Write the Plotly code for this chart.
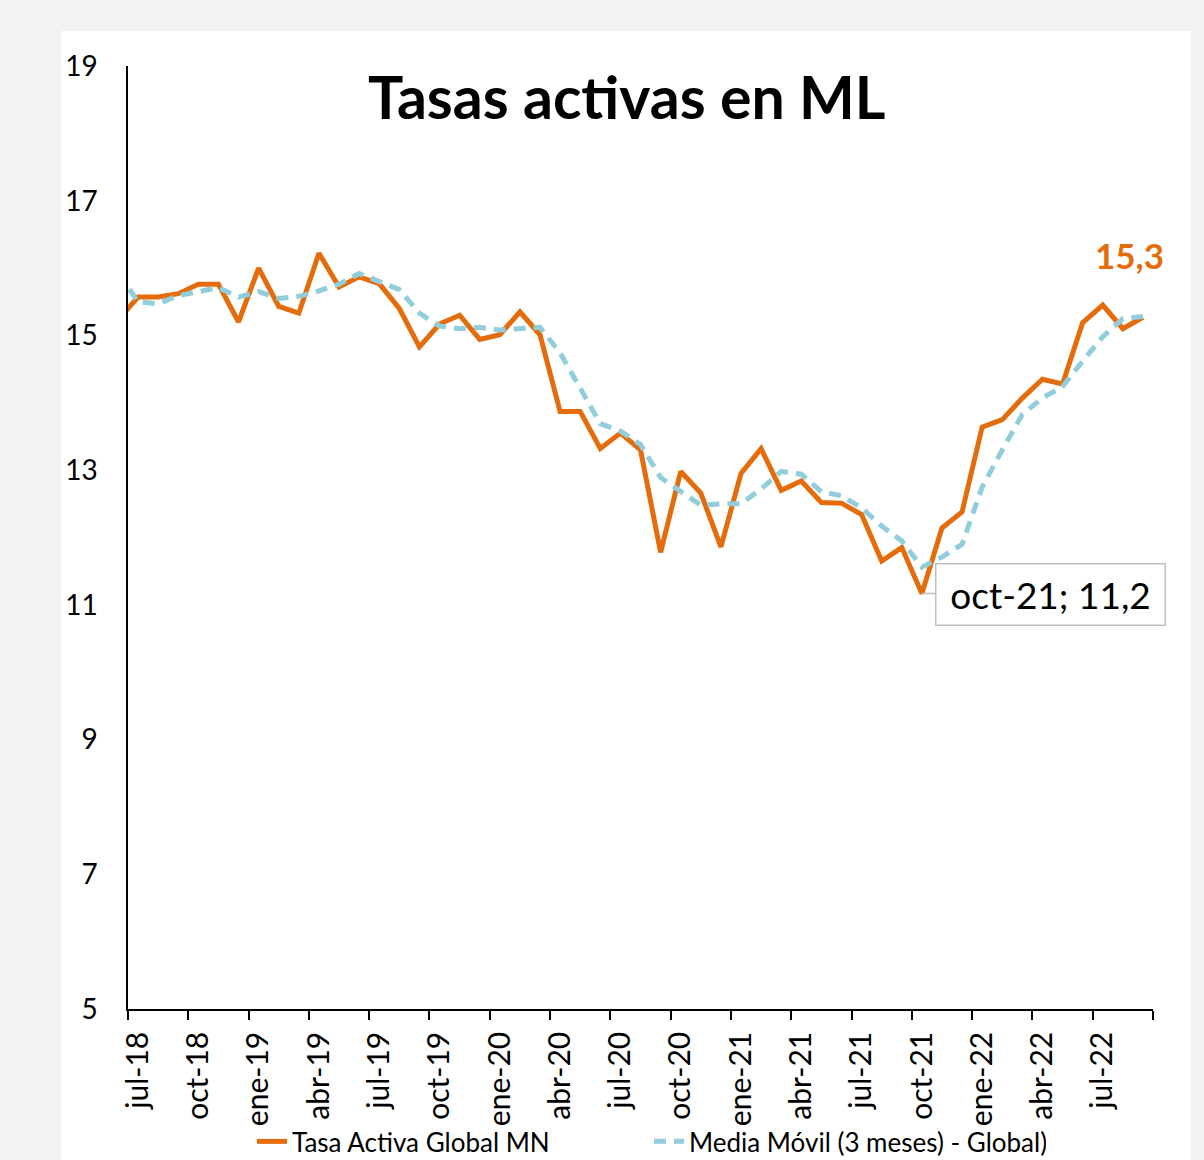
import plotly.graph_objects as go

# ---- data (monthly, jun-18 .. sep-22) ----
abbr = ["ene", "feb", "mar", "abr", "may", "jun", "jul", "ago", "sep", "oct", "nov", "dic"]
start = 2018 * 12 + 5  # jun-18
n_months = 52
meses = [f"{abbr[(start + k) % 12]}-{((start + k) // 12) % 100:02d}" for k in range(n_months)]

tasa_activa = [
    15.23,
    15.57, 15.57, 15.62, 15.76, 15.76, 15.20,
    16.00, 15.43, 15.33, 16.22, 15.72, 15.87,
    15.77, 15.40, 14.83, 15.17, 15.30, 14.94,
    15.01, 15.35, 15.01, 13.87, 13.87, 13.32,
    13.55, 13.30, 11.78, 12.98, 12.66, 11.86,
    12.95, 13.32, 12.70, 12.84, 12.52, 12.51,
    12.34, 11.65, 11.85, 11.17, 12.14, 12.38,
    13.64, 13.75, 14.07, 14.35, 14.28, 15.19,
    15.45, 15.10, 15.27,
]

media_movil = [
    15.93,
    15.50, 15.47, 15.59, 15.65, 15.71, 15.57,
    15.65, 15.55, 15.58, 15.66, 15.76, 15.92,
    15.80, 15.68, 15.33, 15.14, 15.10, 15.12,
    15.08, 15.10, 15.12, 14.74, 14.22, 13.69,
    13.58, 13.38, 12.89, 12.68, 12.48, 12.50,
    12.50, 12.72, 12.98, 12.94, 12.68, 12.62,
    12.44, 12.17, 11.95, 11.56, 11.71, 11.90,
    12.75, 13.30, 13.83, 14.07, 14.24, 14.62,
    14.98, 15.25, 15.28,
]

y_ticks = [5, 7, 9, 11, 13, 15, 17, 19]

# position of each month: centre of its interval (jul-18 interval = [0, 1])
pos = [k - 0.5 for k in range(n_months)]
tick_vals = list(range(0, 52, 3))
tick_text = [meses[b + 1] if b + 1 < n_months else "" for b in tick_vals]

ORANGE = "#E46C0A"
BLUE = "#92CDDC"
FONT = "Lato"

fig = go.Figure()
fig.add_trace(go.Scatter(
    x=pos, y=tasa_activa, mode="lines", name="Tasa Activa Global MN",
    line=dict(color=ORANGE, width=5),
))
fig.add_trace(go.Scatter(
    x=pos, y=media_movil, mode="lines", name="Media Móvil (3 meses) - Global)",
    line=dict(color=BLUE, width=5, dash="12px,8px"),
))

# white chart area over grey page
fig.add_shape(type="rect", xref="paper", yref="paper",
              x0=-0.0654, x1=1.0371, y0=-0.25, y1=1.0371,
              fillcolor="white", line=dict(width=0), layer="below")

# title
fig.add_annotation(text="<b>Tasas activas en ML</b>", xref="paper", yref="paper",
                   x=0.486, y=0.968, xanchor="center", yanchor="middle",
                   showarrow=False, font=dict(family=FONT, size=59, color="black"))

# last value label
fmt = lambda v: f"{v:.1f}".replace(".", ",")
fig.add_annotation(x=pos[-1], y=tasa_activa[-1], text=f"<b>{fmt(tasa_activa[-1])}</b>",
                   showarrow=False, xshift=-13, yshift=62,
                   font=dict(family=FONT, size=35, color=ORANGE))

# minimum callout
imin = min(range(n_months), key=lambda k: tasa_activa[k])
fig.add_annotation(x=pos[imin], y=tasa_activa[imin],
                   text=f"{meses[imin]}; {fmt(tasa_activa[imin])}",
                   showarrow=True, arrowhead=0, arrowwidth=1.5, arrowcolor="#BFBFBF",
                   ax=129, ay=1, standoff=0,
                   bgcolor="white", bordercolor="#BFBFBF", borderwidth=1.5, borderpad=5,
                   width=218, height=50,
                   font=dict(family=FONT, size=37, color="black"))

fig.update_layout(
    width=1204, height=1160, autosize=False,
    margin=dict(l=128, r=51, t=66, b=151, autoexpand=False),
    paper_bgcolor="#F2F2F2", plot_bgcolor="white",
    font=dict(family=FONT, size=28, color="black"),
    showlegend=True,
    legend=dict(orientation="h", x=0.121, xanchor="left", y=-0.1654, yanchor="bottom",
                entrywidth=352,
                font=dict(family=FONT, size=26, color="black"),
                bgcolor="rgba(0,0,0,0)"),
    xaxis=dict(range=[0, 51], tickmode="array", tickvals=tick_vals, ticktext=tick_text,
               tickangle=-90, ticks="outside", ticklen=9, tickwidth=1.5, tickcolor="black",
               showline=True, linecolor="black", linewidth=1.5, showgrid=False, zeroline=False,
               ticklabelshift=10, ticklabelstandoff=0, automargin=False,
               tickfont=dict(family=FONT, size=30, color="black")),
    yaxis=dict(range=[5, 19], tickmode="array", tickvals=y_ticks,
               ticks="", showline=True, linecolor="black", linewidth=1.5,
               showgrid=False, zeroline=False, ticklabelstandoff=23, automargin=False,
               tickfont=dict(family=FONT, size=28, color="black")),
)

fig.write_html("out.html", config={"displayModeBar": False},
               post_script="document.body.style.margin='0';")
